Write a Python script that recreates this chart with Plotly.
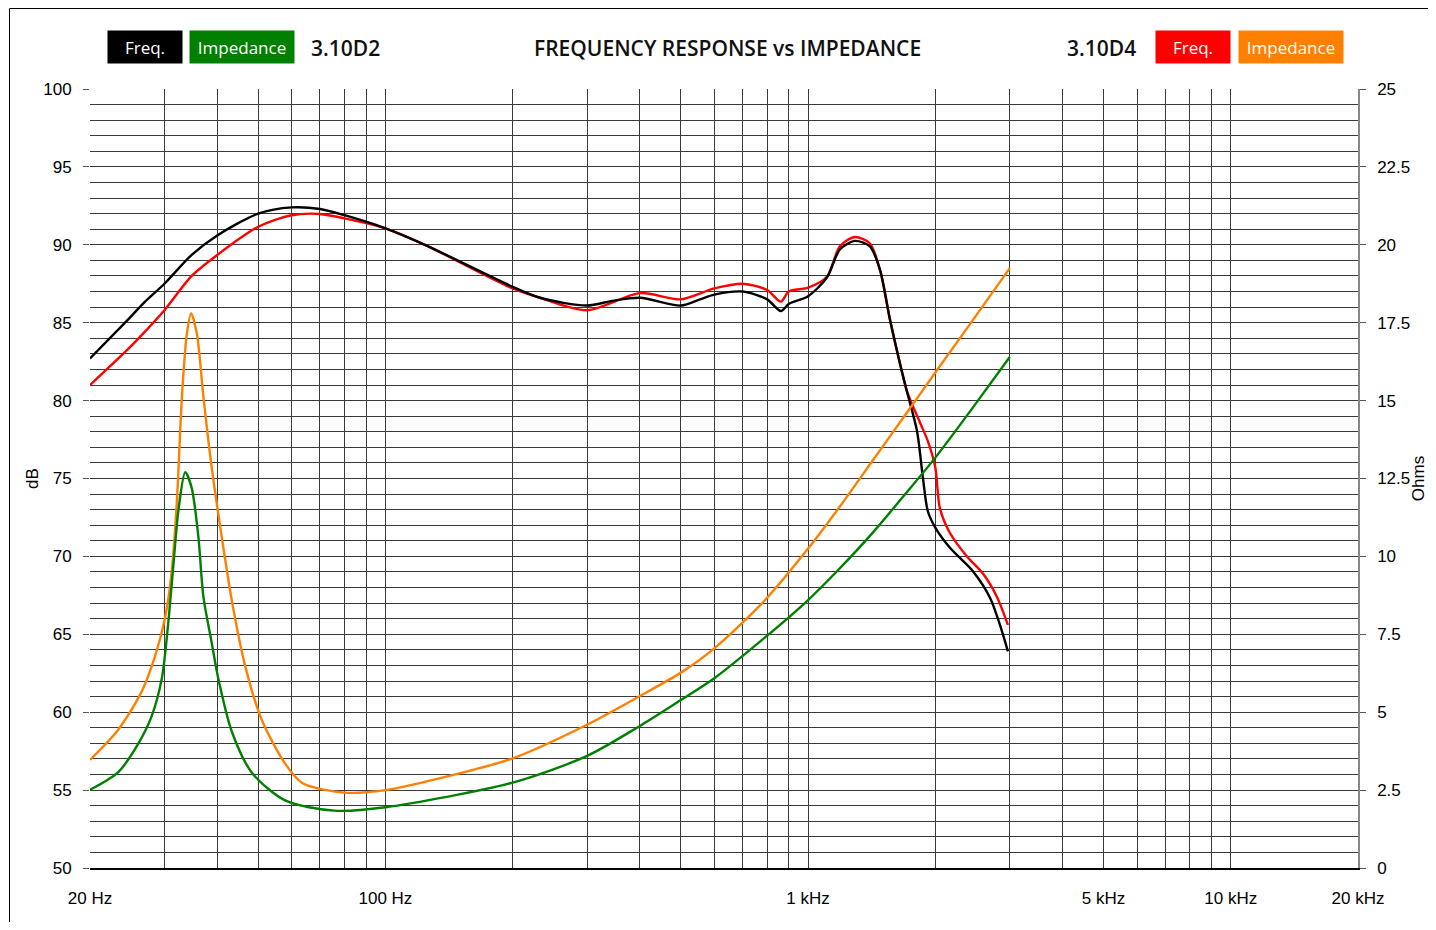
import plotly.graph_objects as go

# ---------------- data ----------------
# 3.10D2 frequency response (dB)
d2_freq_hz = [20, 24.6, 27.0, 30, 34.8, 40, 50, 60, 70, 80, 100, 124, 200, 232, 300, 344, 400,
              500, 555, 600, 700, 800, 862, 900, 1000, 1108, 1189, 1290, 1400, 1479, 1562, 1649,
              1713, 1810, 1869, 1920, 2000, 2166, 2454, 2694, 2844, 2970]
d2_freq_db = [82.7, 85.2, 86.35, 87.5, 89.35, 90.6, 92.0, 92.4, 92.3, 91.9, 91.06, 90.0, 87.3, 86.6,
              86.1, 86.4, 86.6, 86.1, 86.5, 86.8, 87.0, 86.5, 85.75, 86.2, 86.7, 87.9, 89.7, 90.25,
              89.9, 88.4, 85.2, 82.4, 80.6, 78.05, 75.05, 72.9, 71.85, 70.55, 69.05, 67.35, 65.6, 63.9]

# 3.10D4 frequency response (dB)
d4_freq_hz = [20, 24.6, 26.5, 30, 34.8, 40, 50, 60, 70, 80, 100, 124, 200, 232, 300, 400,
              500, 600, 700, 800, 862, 900, 1000, 1108, 1189, 1290, 1400, 1479, 1562, 1649,
              1713, 1839, 1920, 2000, 2050, 2166, 2376, 2592, 2798, 2970]
d4_freq_db = [81.0, 83.3, 84.2, 85.8, 88.0, 89.35, 91.16, 91.9, 91.98, 91.7, 91.06, 90.0, 87.2, 86.6,
              85.8, 86.9, 86.5, 87.2, 87.5, 87.1, 86.35, 87.0, 87.25, 87.95, 89.9, 90.5,
              90.1, 88.4, 85.2, 82.4, 80.6, 78.6, 77.4, 75.7, 73.1, 71.5, 70.0, 68.9, 67.4, 65.6]

# 3.10D2 impedance (Ohms)
d2_imp_hz = [20, 23.3, 26.0, 28.0, 29.6, 30.6, 31.5, 32.4, 33.6, 34.8, 36.1, 37.1, 38.8, 40.2,
             43.3, 48.3, 57.9, 75.7, 100, 200, 299, 400, 500, 600, 791, 1000, 1189, 1426, 1710,
             2000, 2458, 3000]
d2_imp_ohm = [2.51, 3.07, 3.98, 4.88, 6.11, 7.80, 9.72, 11.52, 12.70, 12.2, 10.62, 8.70, 7.24, 6.1,
              4.38, 3.06, 2.17, 1.84, 1.95, 2.74, 3.59, 4.56, 5.39, 6.09, 7.40, 8.6, 9.62, 10.78,
              12.05, 13.17, 14.79, 16.4]

# 3.10D4 impedance (Ohms)
d4_imp_hz = [20, 23.3, 26.5, 28.5, 30.1, 31.2, 32.1, 33.0, 33.9, 34.7, 35.8, 37.1, 38.8, 41.0,
             43.3, 46.5, 51.0, 57.9, 63.7, 79.9, 100, 144, 200, 299, 400, 500, 600, 791, 1000,
             1189, 1426, 1710, 2000, 2458, 3000]
d4_imp_ohm = [3.47, 4.43, 5.66, 6.79, 8.03, 9.49, 11.75, 15.12, 17.15, 17.80, 17.15, 15.12, 12.87,
              10.62, 8.59, 6.52, 4.75, 3.35, 2.72, 2.42, 2.50, 2.98, 3.52, 4.59, 5.52, 6.27, 7.05,
              8.6, 10.25, 11.6, 13.1, 14.6, 15.9, 17.6, 19.25]

x_grid_vals = [20, 30, 40, 50, 60, 70, 80, 90, 100, 200, 300, 400, 500, 600, 700, 800, 900,
               1000, 2000, 3000, 4000, 5000, 6000, 7000, 8000, 9000, 10000, 20000]
x_labels = {20: "20 Hz", 100: "100 Hz", 1000: "1 kHz", 5000: "5 kHz", 10000: "10 kHz", 20000: "20 kHz"}

# ---------------- figure ----------------
C_BLACK = "#000000"
C_GREEN = "#008000"
C_RED = "#ff0000"
C_ORANGE = "#ff8000"
LW = 2.4

fig = go.Figure()
fig.add_trace(go.Scatter(x=d4_imp_hz, y=d4_imp_ohm, yaxis="y2", mode="lines",
                         line=dict(color=C_ORANGE, width=LW, shape="spline", smoothing=0.8),
                         name="3.10D4 Impedance"))
fig.add_trace(go.Scatter(x=d2_imp_hz, y=d2_imp_ohm, yaxis="y2", mode="lines",
                         line=dict(color=C_GREEN, width=LW, shape="spline", smoothing=0.8),
                         name="3.10D2 Impedance"))
fig.add_trace(go.Scatter(x=d4_freq_hz, y=d4_freq_db, mode="lines",
                         line=dict(color=C_RED, width=LW, shape="spline", smoothing=0.8),
                         name="3.10D4 Freq."))
fig.add_trace(go.Scatter(x=d2_freq_hz, y=d2_freq_db, mode="lines",
                         line=dict(color=C_BLACK, width=LW, shape="spline", smoothing=0.8),
                         name="3.10D2 Freq."))

GRID = "#3a3a3a"
AXFONT = "Liberation Sans, Arial, sans-serif"
TICKFONT = dict(family=AXFONT, size=17, color="#000")

# page body has an 8px margin: figure is 16px smaller and margins are shifted by 8px
fig.update_layout(
    width=1420, height=914,
    margin=dict(l=82, r=70, t=81, b=54, autoexpand=False),
    paper_bgcolor="white", plot_bgcolor="white",
    showlegend=False,
    xaxis=dict(type="log", range=[1.30103, 4.30103],
               tickmode="array", tickvals=x_grid_vals,
               ticktext=[x_labels.get(v, "") for v in x_grid_vals],
               showgrid=True, gridcolor=GRID, gridwidth=1,
               ticks="", tickfont=TICKFONT, ticklabelstandoff=14,
               showline=True, linecolor="#000", linewidth=1.5, mirror=False,
               zeroline=False, automargin=False),
    yaxis=dict(range=[50, 100], tickmode="linear", tick0=50, dtick=5,
               showgrid=True, gridcolor=GRID, gridwidth=1,
               ticks="outside", ticklen=6, tickcolor="#555", tickfont=TICKFONT,
               ticklabelstandoff=8,
               minor=dict(dtick=1, showgrid=True, gridcolor=GRID, gridwidth=1, ticks=""),
               title=dict(text="dB", font=dict(family=AXFONT, size=17, color="#000"), standoff=0),
               zeroline=False, showline=False, automargin=False),
    yaxis2=dict(range=[0, 25], overlaying="y", side="right", tickmode="linear", tick0=0, dtick=2.5,
                showgrid=False, ticks="outside", ticklen=6, tickcolor="#555", tickfont=TICKFONT,
                ticklabelstandoff=8,
                title=dict(text="Ohms", font=dict(family=AXFONT, size=17, color="#000"), standoff=6),
                zeroline=False, showline=True, linecolor="#888", linewidth=1.5, automargin=False),
)

# outer frame (partially visible at left and top)
fig.add_shape(type="rect", xref="paper", yref="paper",
              x0=(9.5 - 90) / 1268, x1=(1460 - 90) / 1268,
              y0=(868 - 960) / 779, y1=(868 - 8.5) / 779,
              line=dict(color="#000", width=1), layer="below")

HEAD_FONT = "Open Sans, Lato, sans-serif"
def box(text, xc, color, w):
    fig.add_annotation(xref="paper", yref="paper", x=(xc - 90) / 1268, y=(868 - 47) / 779,
                       text=text, showarrow=False, xanchor="center", yanchor="middle",
                       bgcolor=color, width=w, height=28, borderpad=2,
                       font=dict(family=HEAD_FONT, size=17, color="white"))

box("Freq.", 145, C_BLACK, 70)
box("Impedance", 242, C_GREEN, 100)
box("Freq.", 1193, C_RED, 70)
box("Impedance", 1291, C_ORANGE, 100)

def label(text, xc, size=21):
    fig.add_annotation(xref="paper", yref="paper", x=(xc - 90) / 1268, y=(868 - 48) / 779,
                       text=text, showarrow=False, xanchor="center", yanchor="middle",
                       font=dict(family=HEAD_FONT, size=size, color="#111", weight=600))

label("3.10D2", 345)
label("FREQUENCY RESPONSE vs IMPEDANCE", 727)
label("3.10D4", 1101)

fig.write_html("out.html")
